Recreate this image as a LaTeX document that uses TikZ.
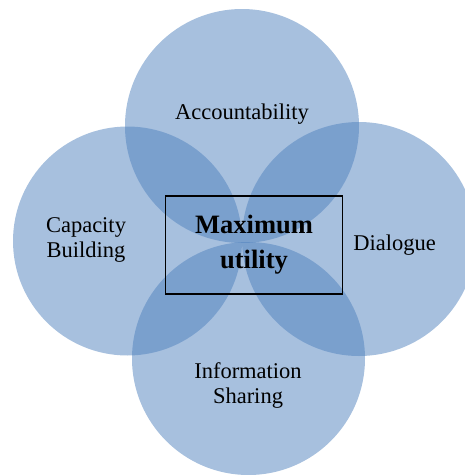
\documentclass[tikz,border=0pt]{standalone}
\usepackage{fontspec}
\setmainfont{Liberation Serif}
\definecolor{petal}{RGB}{79,129,189}
\begin{document}
\begin{tikzpicture}[x=1pt,y=-1pt,
  petalfill/.style={fill=petal,fill opacity=0.5},
  petaltext/.style={align=center,inner sep=0pt,font=\fontsize{22.5}{25}\selectfont},
  hubbox/.style={draw=black,line width=1.6pt,minimum width=177pt,minimum height=98pt,inner sep=0pt,
    align=center,font=\bfseries\fontsize{26.5}{35}\selectfont}]
  \useasboundingbox (0,0) rectangle (465,475);
  \clip (0,0) rectangle (465,475);
  % four overlapping circles
  \fill[petalfill] (242,126) circle (117);
  \fill[petalfill] (127.5,241) circle (114.5);
  \fill[petalfill] (359,239) circle (117);
  \fill[petalfill] (248.5,358.5) circle (116.5);
  % labels
  \node[petaltext] (acc) at (242,114) {Accountability};
  \node[petaltext] (cap) at (86,240) {Capacity\\Building};
  \node[petaltext] (dia) at (394.5,245) {Dialogue};
  \node[petaltext] (inf) at (248,386) {Information\\Sharing};
  % central box
  \node[hubbox] (hub) at (254,245) {Maximum\\utility};
\end{tikzpicture}
\end{document}
